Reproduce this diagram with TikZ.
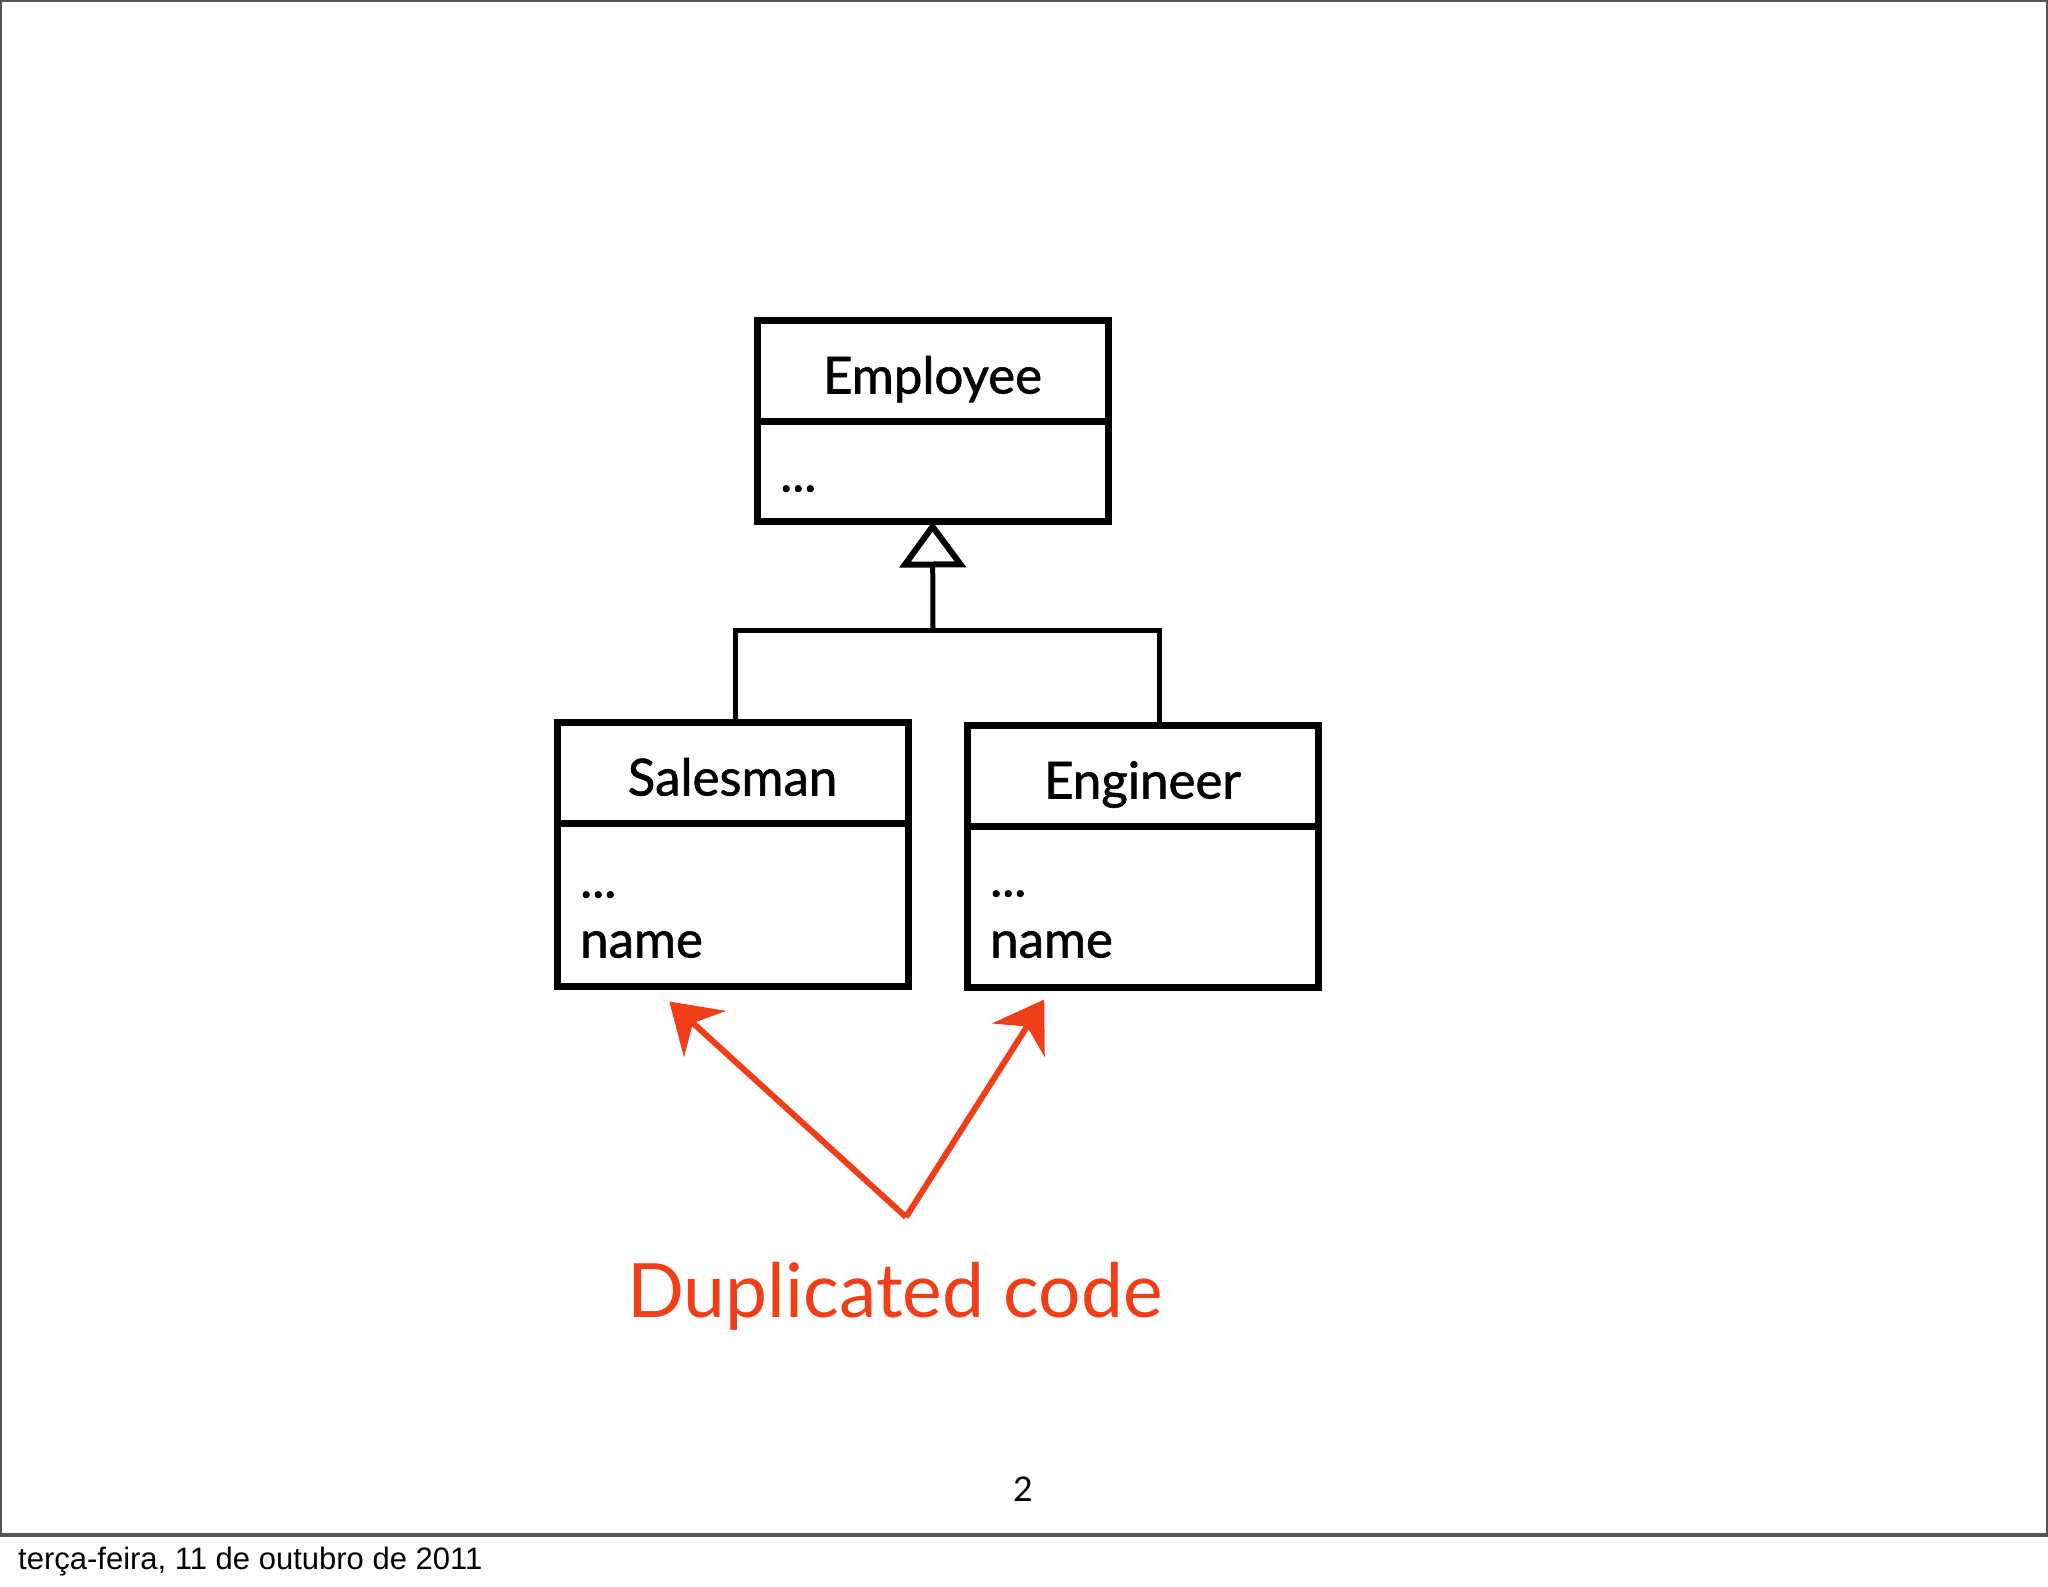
\documentclass[tikz,border=0pt]{standalone}
\usepackage{fontspec}
\setmainfont{Lato}
\newfontfamily\umlfont{Lato}[FakeBold=1.2]
\newfontfamily\footfont{Liberation Sans}
\usetikzlibrary{positioning,arrows.meta,calc}
\definecolor{dupred}{RGB}{240,62,24}
\definecolor{framegray}{RGB}{85,85,85}

\begin{document}
\begin{tikzpicture}[x=1pt,y=-1pt]
	\tikzstyle{classhead}=[draw, rectangle, line width=7pt, outer sep=0pt, minimum width=351pt, minimum height=101pt, text height=45pt, text depth=0pt, font=\umlfont\fontsize{51}{60}\selectfont]
	\tikzstyle{classbody}=[draw, rectangle, line width=7pt, outer sep=0pt, minimum width=351pt]
	\tikzstyle{member}=[anchor=base west, inner sep=0pt, font=\umlfont\fontsize{51}{60}\selectfont]
	\tikzstyle{link}=[line width=5pt]
	\tikzstyle{dupline}=[draw=dupred, line width=6pt, -{Stealth[length=48pt, width=62pt, inset=16pt]}]

	\useasboundingbox (0,0) rectangle (2048,1587);
	\draw[framegray, line width=2pt] (1,1) rectangle (2047,1535);
	\draw[framegray, line width=4pt] (0,1535) -- (2048,1535);

	% classes
	\node[classhead] (emph) at (932.5,371) {Employee};
	\node[classbody, minimum height=100pt, below=0pt of emph] (empb) {};
	\node[member] (empdots) at ([shift={(23pt,30pt)}]empb.south west) {...};

	\node[classhead, below left=201pt and -151pt of empb] (salesh) {Salesman};
	\node[classbody, minimum height=163pt, below=0pt of salesh] (salesb) {};
	\node[member] (salesdots) at ([shift={(23pt,89pt)}]salesb.south west) {...};
	\node[member] (salesname) at ([shift={(23pt,29pt)}]salesb.south west) {name};

	\node[classhead, below right=204pt and -141pt of empb] (engh) {Engineer};
	\node[classbody, minimum height=161pt, below=0pt of engh] (engb) {};
	\node[member] (engdots) at ([shift={(23pt,91pt)}]engb.south west) {...};
	\node[member] (engname) at ([shift={(23pt,30pt)}]engb.south west) {name};

	% inheritance
	\coordinate (joint) at (933,630);
	\draw[link] ([xshift=3pt]salesh.north) |- (joint) -| ([xshift=17pt]engh.north);
	\draw[link, -{Triangle[open, length=46pt, width=66pt, line width=6pt]}] (joint) -- (empb.south);

	% duplicated code
	\coordinate (dupsrc) at (906,1217);
	\draw[dupline] (dupsrc) -- ([yshift=-15pt]$(salesb.south west)!0.32!(salesb.south east)$);
	\draw[dupline] (dupsrc) -- ([yshift=-12pt]$(engb.south west)!0.22!(engb.south east)$);
	\node[anchor=base, text=dupred, font=\fontsize{75}{90}\selectfont] (duptext) at (895,1317) {Duplicated code};

	\node[anchor=base, inner sep=0pt, font=\fontsize{34}{40}\selectfont] (pagenum) at (1023,1501) {2};
	\node[anchor=base west, inner sep=0pt, font=\footfont\fontsize{31}{36}\selectfont] (footer) at (18,1569) {terça-feira, 11 de outubro de 2011};
\end{tikzpicture}
\end{document}
